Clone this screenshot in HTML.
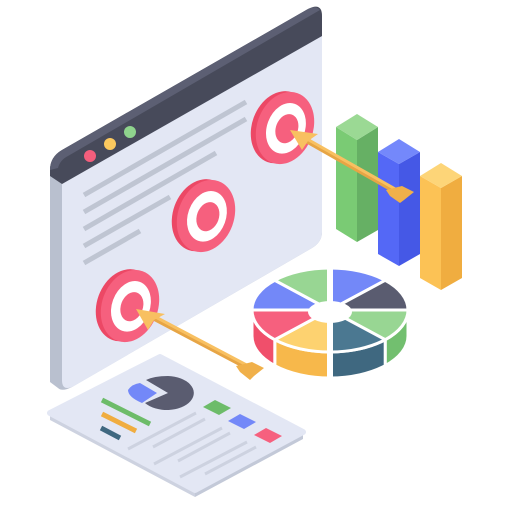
<!DOCTYPE html>
<html><head><meta charset="utf-8"><style>html,body{margin:0;padding:0;background:#fff}svg{display:block}</style></head>
<body>
<svg width="512" height="512" viewBox="0 0 512 512" xmlns="http://www.w3.org/2000/svg">
<!-- browser window -->
<path d="M50,172 Q50,158 62,152 L310,10 Q322,4 322,18 L322,232 Q322,242 312,248 L72,387 Q62,392 58,388 L50,382 Z" fill="#b9c0cf"/>
<path d="M62,184 L322,36 L322,232 Q322,242 312,248 L74,386 Q62,392 62,380 Z" fill="#e3e7f4"/>
<path d="M50,176 L50,170 Q50,157 62,150 L308,9 Q322,2 322,16 L322,36 L62,184 Z" fill="#474a5a"/>
<path d="M50,170 Q50,157 62,150 L308,9 Q316,5 320,10 L68,156 Q60,160 58,168 Z" fill="#5c5f73"/>
<circle cx="90" cy="156" r="6" fill="#f45e7c"/>
<circle cx="110" cy="144" r="6" fill="#fcc95e"/>
<circle cx="130" cy="132" r="6" fill="#8fd48d"/>
<g stroke="#bfc5d2" stroke-width="5">
<line x1="84" y1="195" x2="246" y2="102"/>
<line x1="84" y1="212" x2="246" y2="119"/>
<line x1="84" y1="229" x2="216" y2="153"/>
<line x1="84" y1="246" x2="170" y2="197"/>
<line x1="84" y1="263" x2="140" y2="231"/>
</g>
<!-- targets -->
<g transform="translate(285,128) rotate(20)">
<ellipse cx="-5" cy="1" rx="28" ry="37" fill="#ec4865"/>
<ellipse cx="0" cy="0" rx="28" ry="37" fill="#f6607e"/>
<ellipse cx="1" cy="0" rx="19" ry="26" fill="#fff"/>
<ellipse cx="2" cy="0" rx="11" ry="15" fill="#f6607e"/>
</g>
<g transform="translate(206,216) rotate(20)">
<ellipse cx="-5" cy="1" rx="28" ry="37" fill="#ec4865"/>
<ellipse cx="0" cy="0" rx="28" ry="37" fill="#f6607e"/>
<ellipse cx="1" cy="0" rx="19" ry="26" fill="#fff"/>
<ellipse cx="2" cy="0" rx="11" ry="15" fill="#f6607e"/>
</g>
<g transform="translate(130,306) rotate(20)">
<ellipse cx="-5" cy="1" rx="28" ry="37" fill="#ec4865"/>
<ellipse cx="0" cy="0" rx="28" ry="37" fill="#f6607e"/>
<ellipse cx="1" cy="0" rx="19" ry="26" fill="#fff"/>
<ellipse cx="2" cy="0" rx="11" ry="15" fill="#f6607e"/>
</g>
<!-- bars -->
<polygon points="336,127 357,140 357,242 336,229" fill="#7acb74"/>
<polygon points="357,140 378,127 378,230 357,242" fill="#66b064"/>
<polygon points="357,114 378,127 357,140 336,127" fill="#9bd994"/>
<polygon points="378,152 399,164 399,266 378,254" fill="#5468f6"/>
<polygon points="399,164 420,152 420,254 399,266" fill="#4558e6"/>
<polygon points="399,139 420,152 399,164 378,152" fill="#7488fb"/>
<polygon points="420,176 441,188 441,290 420,278" fill="#fcc255"/>
<polygon points="441,188 462,176 462,278 441,290" fill="#f0ad40"/>
<polygon points="441,163 462,176 441,188 420,176" fill="#fdd578"/>
<!-- arrow 1 -->
<line x1="300" y1="137" x2="404" y2="196" stroke="#e7a545" stroke-width="5"/>
<line x1="300" y1="135" x2="404" y2="194" stroke="#f8c061" stroke-width="3"/>
<polygon points="290,130 318,134 308,141 302,150" fill="#f8c061"/>
<polygon points="386,190 402,186 414,192 404,200 400,203 390,196" fill="#f0b04a"/>
<!-- pie walls -->
<g stroke="#fff" stroke-width="3" stroke-linejoin="round">
<path d="M408,310 A78,42 0 0 1 385.2,339.7 L385.2,365.7 A78,42 0 0 0 408,336 Z" fill="#72bf6f"/>
<path d="M385.2,339.7 A78,42 0 0 1 330,352 L330,378 A78,42 0 0 0 385.2,365.7 Z" fill="#3f6880"/>
<path d="M330,352 A78,42 0 0 1 274.8,339.7 L274.8,365.7 A78,42 0 0 0 330,378 Z" fill="#f7b84b"/>
<path d="M274.8,339.7 A78,42 0 0 1 252,310 L252,336 A78,42 0 0 0 274.8,365.7 Z" fill="#f04f6b"/>
<path d="M330,310 L330,268 A78,42 0 0 1 385.2,280.3 Z" fill="#7388f8"/>
<path d="M330,310 L385.2,280.3 A78,42 0 0 1 408,310 Z" fill="#5a5c70"/>
<path d="M330,310 L408,310 A78,42 0 0 1 385.2,339.7 Z" fill="#98d693"/>
<path d="M330,310 L385.2,339.7 A78,42 0 0 1 330,352 Z" fill="#4b7891"/>
<path d="M330,310 L330,352 A78,42 0 0 1 274.8,339.7 Z" fill="#fdd270"/>
<path d="M330,310 L274.8,339.7 A78,42 0 0 1 252,310 Z" fill="#f6607e"/>
<path d="M330,310 L252,310 A78,42 0 0 1 274.8,280.3 Z" fill="#7388f8"/>
<path d="M330,310 L274.8,280.3 A78,42 0 0 1 330,268 Z" fill="#98d693"/>
</g>
<ellipse cx="330" cy="312" rx="22" ry="11" fill="#fff"/>
<rect x="327" y="262" width="6" height="120" fill="#fff"/>
<!-- document -->
<polygon points="50,413 160,357 303,432 195,490 195,497 50,420" fill="#cdd2e0"/>
<polygon points="303,432 303,439 195,497 195,490" fill="#c3c9d8"/>
<polygon points="50,413 160,357 303,432 195,490" fill="#e3e7f4" stroke="#e3e7f4" stroke-width="6" stroke-linejoin="round"/>
<path d="M168,393 L146,380 Q154,376 168,376 A27,17 0 1 1 145,403 Z" fill="#5a5c70"/>
<path d="M140,383 L157,393 L142,403 Q128,397 128,390 Q132,384 140,383 Z" fill="#7388f8"/>
<g stroke-width="5">
<line x1="102" y1="400" x2="150" y2="424" stroke="#6dbc69"/>
<line x1="102" y1="414" x2="136" y2="431" stroke="#f0ad40"/>
<line x1="101" y1="428" x2="120" y2="438" stroke="#3f6880"/>
</g>
<polygon points="215,400 231,408 219,415 203,407" fill="#6dbc69"/>
<polygon points="240,414 256,422 244,429 228,421" fill="#7388f8"/>
<polygon points="266,428 282,436 270,443 254,435" fill="#f6607e"/>
<g stroke="#cdd2e0" stroke-width="3">
<line x1="128" y1="449" x2="196" y2="413"/>
<line x1="153" y1="447" x2="205" y2="419"/>
<line x1="154" y1="464" x2="222" y2="428"/>
<line x1="178" y1="461" x2="230" y2="433"/>
<line x1="180" y1="477" x2="247" y2="442"/>
<line x1="205" y1="474" x2="256" y2="447"/>
</g>
<!-- arrow 2 -->
<line x1="148" y1="315" x2="256" y2="372" stroke="#e7a545" stroke-width="5"/>
<line x1="148" y1="313" x2="256" y2="370" stroke="#f8c061" stroke-width="3"/>
<polygon points="136,309 165,314 154,320 148,330" fill="#f8c061"/>
<polygon points="236,366 252,362 264,368 254,376 250,380 240,372" fill="#f0b04a"/>
</svg>
</body></html>
